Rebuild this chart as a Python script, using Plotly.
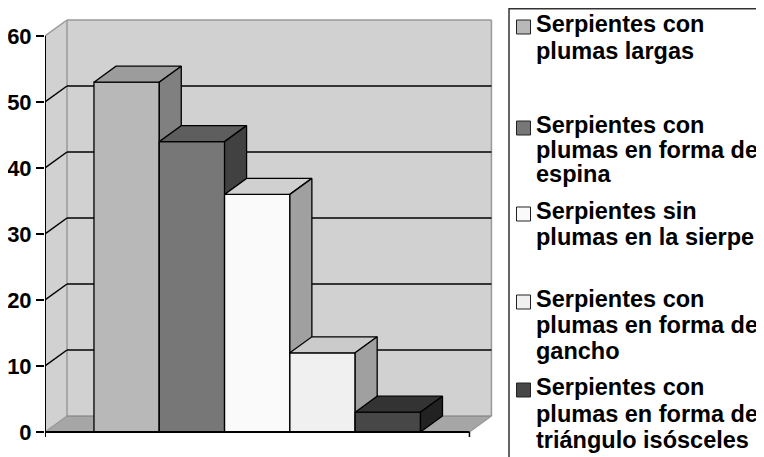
import plotly.graph_objects as go

# ---------------- data ----------------
categories = [
    "Serpientes con plumas largas",
    "Serpientes con plumas en forma de espina",
    "Serpientes sin plumas en la sierpe",
    "Serpientes con plumas en forma de gancho",
    "Serpientes con plumas en forma de triángulo isósceles",
]
legend_lines = [
    ["Serpientes con", "plumas largas"],
    ["Serpientes con", "plumas en forma de", "espina"],
    ["Serpientes sin", "plumas en la sierpe"],
    ["Serpientes con", "plumas en forma de", "gancho"],
    ["Serpientes con", "plumas en forma de", "triángulo isósceles"],
]
values = [53, 44, 36, 12, 3]
front_colors = ["#b8b8b8", "#777777", "#fafafa", "#f0f0f0", "#474747"]
top_colors = ["#9c9c9c", "#5e5e5e", "#d0d0d0", "#cbcbcb", "#333333"]
side_colors = ["#808080", "#414141", "#a0a0a0", "#a0a0a0", "#222222"]
tick_values = [0, 10, 20, 30, 40, 50, 60]

# ---------------- geometry ----------------
# the page body has an 8px margin, so figure pixel = screen pixel - 8
OFF = 8
W, H = 764, 457
LEFT = 45 - OFF      # figure pixel x of the front value axis
ZERO_Y = 432 - OFF   # figure pixel y of value 0
PX_X = 65.3          # pixels per bar width
PX_Y = 6.6           # pixels per value unit
DX = 22 / PX_X       # depth offset in bar-width units
DY = 16 / PX_Y       # depth offset in value units
GAP = 0.75           # half of 150% gap width
N = len(values)
L = N + 2 * GAP
VMAX = tick_values[-1]

fig = go.Figure()

def poly(xs, ys, fill, line_color="black", width=1.3):
    fig.add_trace(go.Scatter(
        x=xs + [xs[0]], y=ys + [ys[0]], mode="lines", fill="toself",
        fillcolor=fill, line=dict(color=line_color, width=width),
        hoverinfo="skip", showlegend=False))

shapes = []

def seg(x0, y0, x1, y1, color, width, layer="below"):
    shapes.append(dict(type="line", xref="x", yref="y",
                       x0=x0, y0=y0, x1=x1, y1=y1, layer=layer,
                       line=dict(color=color, width=width)))

def path(pts, fill, layer="below"):
    d = "M " + " L ".join(f"{x},{y}" for x, y in pts) + " Z"
    shapes.append(dict(type="path", xref="x", yref="y", path=d, layer=layer,
                       fillcolor=fill, line=dict(width=0)))

# walls and floor
path([(0, 0), (0, VMAX), (DX, VMAX + DY), (DX, DY)], "#d1d1d1")
path([(DX, DY), (DX, VMAX + DY), (L + DX, VMAX + DY), (L + DX, DY)], "#d1d1d1")
path([(0, 0), (L, 0), (L + DX, DY), (DX, DY)], "#a6a6a6")
grey = "#999999"
seg(0, VMAX, DX, VMAX + DY, grey, 1.5)
seg(DX, VMAX + DY, L + DX, VMAX + DY, grey, 1.5)
seg(L + DX, VMAX + DY, L + DX, DY, grey, 1.5)
seg(DX, DY, DX, VMAX + DY, grey, 1.5)
seg(0, 0, DX, DY, grey, 1.2)
seg(DX, DY, L + DX, DY, "#7a7a7a", 1.2)
seg(L, 0, L + DX, DY, grey, 1.2)
for v in tick_values[1:-1]:
    seg(0, v, DX, v + DY, "black", 1.5)
    seg(DX, v + DY, L + DX, v + DY, "black", 1.5)

# bars (front, top, side faces), left to right for correct overlap
for i, v in enumerate(values):
    x0 = GAP + i
    x1 = x0 + 1
    poly([x0, x1, x1, x0], [0, 0, v, v], front_colors[i])
    poly([x0, x1, x1 + DX, x0 + DX], [v, v, v + DY, v + DY], top_colors[i])
    poly([x1, x1 + DX, x1 + DX, x1], [0, DY, v + DY, v], side_colors[i])

# axis lines
tick_down = 5 / PX_Y
seg(0, -tick_down, 0, VMAX, "black", 2, layer="above")
seg(0, 0, L, 0, "black", 2.2, layer="above")
seg(L, 0, L, -tick_down, "black", 1.5, layer="above")

# ---------------- manual legend (paper coordinates, screen pixels in) ----------------
PW = W - LEFT
def px(x):
    return (x - OFF - LEFT) / PW
def py(y):
    return 1 - (y - OFF) / H

shapes.append(dict(type="line", xref="paper", yref="paper", x0=px(509), y0=py(8.7),
                   x1=px(780), y1=py(8.7), layer="above",
                   line=dict(color="#333333", width=1.5)))
shapes.append(dict(type="line", xref="paper", yref="paper", x0=px(509), y0=py(8),
                   x1=px(509), y1=py(475), layer="above",
                   line=dict(color="#333333", width=1.5)))

line_y = [
    [24, 51],
    [125, 150, 174],
    [211, 237],
    [299, 325, 351],
    [387, 414, 440],
]
annotations = []
for i, lines in enumerate(legend_lines):
    yc = line_y[i][0] + 3
    shapes.append(dict(type="rect", xref="paper", yref="paper",
                       x0=px(516.5), x1=px(530.5), y0=py(yc - 7), y1=py(yc + 7),
                       fillcolor=front_colors[i], layer="above",
                       line=dict(color="#222222", width=1)))
    for t, yy in zip(lines, line_y[i]):
        annotations.append(dict(
            text=t, xref="paper", yref="paper", x=px(534), y=py(yy),
            xanchor="left", yanchor="middle", showarrow=False,
            font=dict(family="Liberation Sans", size=23.5, color="black", weight="bold")))

fig.update_layout(
    template="none",
    width=W, height=H,
    margin=dict(l=LEFT, r=0, t=0, b=0, pad=0, autoexpand=False),
    paper_bgcolor="white", plot_bgcolor="white",
    showlegend=False,
    shapes=shapes, annotations=annotations,
    xaxis=dict(range=[0, PW / PX_X], visible=False, fixedrange=True, automargin=False),
    yaxis=dict(range=[(ZERO_Y - H) / PX_Y, ZERO_Y / PX_Y], automargin=False,
               tickvals=tick_values, ticktext=[str(t) for t in tick_values],
               ticks="outside", ticklen=8, tickwidth=1.5, tickcolor="black",
               showgrid=False, zeroline=False, showline=False,
               tickfont=dict(family="Liberation Sans", size=22, color="black", weight="bold"),
               fixedrange=True),
)

fig.write_html("out.html")
